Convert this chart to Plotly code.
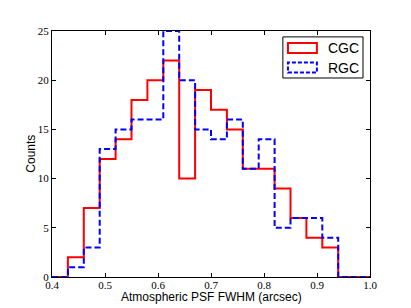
import plotly.graph_objects as go

# Bin edges (width 0.03 from 0.40 to 1.00)
bin_edges = [0.40, 0.43, 0.46, 0.49, 0.52, 0.55, 0.58, 0.61, 0.64, 0.67, 0.70,
             0.73, 0.76, 0.79, 0.82, 0.85, 0.88, 0.91, 0.94, 0.97, 1.00]
cgc_counts = [0, 2, 7, 12, 14, 18, 20, 22, 10, 19, 17, 15, 11, 11, 9, 6, 4, 3, 0, 0]
rgc_counts = [0, 1, 3, 13, 15, 16, 16, 25, 20, 15, 14, 16, 11, 14, 5, 6, 6, 4, 0, 0]
series_names = ["CGC", "RGC"]
x_ticks = [0.4, 0.5, 0.6, 0.7, 0.8, 0.9, 1.0]
x_tick_text = ["0.4", "0.5", "0.6", "0.7", "0.8", "0.9", "1.0"]
y_ticks = [0, 5, 10, 15, 20, 25]


def step_path(edges, counts):
    xs = list(edges)
    ys = list(counts) + [counts[-1]]
    return xs, ys


fig = go.Figure()
cx, cy = step_path(bin_edges, cgc_counts)
rx, ry = step_path(bin_edges, rgc_counts)
fig.add_trace(go.Scatter(x=cx, y=cy, mode="lines", line_shape="hv",
                         line=dict(color="#ff0000", width=2),
                         name=series_names[0], showlegend=False, cliponaxis=False))
fig.add_trace(go.Scatter(x=rx, y=ry, mode="lines", line_shape="hv",
                         line=dict(color="#0000ff", width=2, dash="6px,3px"),
                         name=series_names[1], showlegend=False, cliponaxis=False))

axis_common = dict(showline=True, linecolor="black", linewidth=1, mirror="ticks",
                   ticks="inside", ticklen=4, tickcolor="black", showgrid=False,
                   zeroline=False, automargin=False)

# The page body has an 8px default margin; compensate in size/margins
fig.update_layout(
    width=403, height=300,
    margin=dict(l=44, r=41, t=23, b=31),
    paper_bgcolor="white", plot_bgcolor="white",
    showlegend=False,
    xaxis=dict(range=[0.4, 1.0], tickvals=x_ticks, ticktext=x_tick_text,
               tickfont=dict(family="Liberation Serif", size=11, color="black"),
               ticklabelstandoff=-2,
               **axis_common),
    yaxis=dict(range=[0, 25], tickvals=y_ticks,
               tickfont=dict(family="Liberation Serif", size=11, color="black"),
               **axis_common),
)

# Axis titles
fig.add_annotation(xref="paper", yref="paper", x=0.5, y=-0.080, xanchor="center",
                   yanchor="middle", text="Atmospheric PSF FWHM (arcsec)", showarrow=False,
                   font=dict(family="Liberation Sans", size=12, color="black"))
fig.add_annotation(xref="paper", yref="paper", x=-0.067, y=0.5, xanchor="center",
                   yanchor="middle", text="Counts", textangle=-90, showarrow=False,
                   font=dict(family="Liberation Sans", size=12, color="black"))

# Manual legend (outlined patches like matplotlib step histograms)
fig.add_shape(type="rect", xref="paper", yref="paper", x0=0.726, x1=0.978,
              y0=0.809, y1=0.976, line=dict(color="black", width=1),
              fillcolor="white", layer="above")
fig.add_shape(type="rect", xref="paper", yref="paper", x0=0.742, x1=0.833,
              y0=0.911, y1=0.951, line=dict(color="#ff0000", width=2), layer="above")
fig.add_shape(type="rect", xref="paper", yref="paper", x0=0.742, x1=0.833,
              y0=0.831, y1=0.872, line=dict(color="#0000ff", width=2, dash="4px,2px"),
              layer="above")
fig.add_annotation(xref="paper", yref="paper", x=0.862, y=0.931, xanchor="left",
                   yanchor="middle", text=series_names[0], showarrow=False,
                   font=dict(family="Liberation Sans", size=14, color="black"))
fig.add_annotation(xref="paper", yref="paper", x=0.862, y=0.850, xanchor="left",
                   yanchor="middle", text=series_names[1], showarrow=False,
                   font=dict(family="Liberation Sans", size=14, color="black"))

fig.write_html("out.html")
